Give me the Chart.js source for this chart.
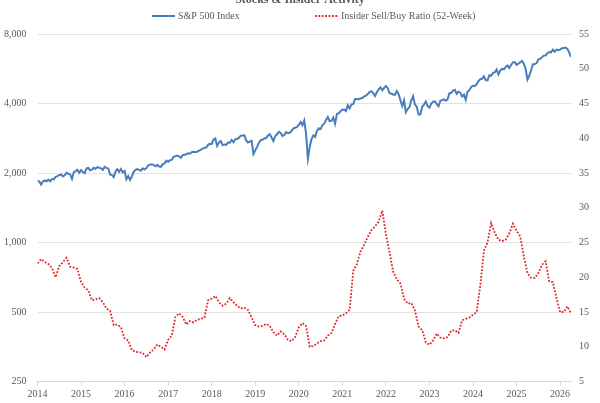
<!DOCTYPE html>
<html>
<head>
<meta charset="utf-8">
<script src="https://cdn.jsdelivr.net/npm/chart.js@4.4.1/dist/chart.umd.min.js"></script>
<style>
html,body{margin:0;padding:0;background:#fff;}
#wrap{width:600px;height:403px;position:relative;overflow:hidden;}
canvas{display:block;}
</style>
</head>
<body>
<div id="wrap"><canvas id="c" width="600" height="403"></canvas></div>
<script>
const chartTitle = 'Stocks & Insider Activity';
const seriesNames = ['S&P 500 Index', 'Insider Sell/Buy Ratio (52-Week)'];
const startYear = 2014;
const spxPerYear = 24;   // half-monthly readings
const ratioPerYear = 12; // monthly readings

const spx = [1848,
 1838,1783, 1838,1859, 1841,1872, 1842,1884, 1878,1924, 1937,1960, 1973,1931, 1955,2003, 1985,1972, 1886,2018, 2039,2067, 2003,2059,
 2019,1995, 2096,2104, 2053,2068, 2106,2086, 2122,2107, 2096,2063, 2126,2104, 2092,1972, 1958,1920, 2033,2079, 2023,2080, 2012,2044,
 1880,1940, 1865,1932, 2022,2060, 2081,2065, 2047,2097, 2071,2099, 2161,2174, 2184,2171, 2139,2168, 2133,2126, 2180,2199, 2262,2239,
 2274,2279, 2351,2364, 2381,2363, 2329,2384, 2400,2412, 2433,2423, 2459,2470, 2466,2472, 2500,2519, 2553,2575, 2579,2648, 2676,2674,
 2786,2824, 2619,2714, 2752,2641, 2656,2648, 2712,2705, 2780,2718, 2801,2816, 2840,2902, 2905,2914, 2768,2712, 2736,2760, 2416,2507,
 2596,2704, 2775,2784, 2822,2834, 2905,2946, 2850,2752, 2887,2942, 3013,2980, 2888,2926, 3007,2977, 2986,3038, 3120,3141, 3168,3231,
 3330,3226, 3380,2954, 2305,2585, 2800,2912, 2863,3044, 3124,3100, 3226,3271, 3390,3500, 3357,3363, 3483,3270, 3610,3622, 3701,3756,
 3768,3714, 3932,3811, 3963,3973, 4185,4181, 4174,4204, 4224,4298, 4327,4395, 4480,4523, 4433,4308, 4471,4605, 4700,4567, 4669,4766,
 4662,4432, 4418,4374, 4357,4530, 4392,4132, 3901,4132, 3667,3785, 3863,4130, 4305,3955, 3873,3586, 3583,3872, 3959,4080, 3895,3840,
 3999,4077, 4090,3970, 3891,4109, 4137,4169, 4110,4180, 4426,4450, 4554,4589, 4404,4508, 4450,4288, 4373,4150, 4502,4568, 4719,4770,
 4766,4846, 5005,5096, 5117,5254, 5051,5036, 5308,5278, 5432,5460, 5615,5346, 5554,5648, 5626,5762, 5842,5705, 5870,6032, 6051,5882,
 5950,6040, 6115,5955, 5639,5074, 5275,5569, 5917,5912, 5982,6205, 6243,6339, 6449,6460, 6606,6688, 6664,6840, 6700,6849, 6800,6845,
 6940,6950, 6990,6900, 6650,6370];

const ratio = [
 22.0,22.6,22.2,21.9,21.3,20.0,21.6,22.2,22.8,21.5,21.4,21.2,
 19.3,18.5,18.1,16.7,16.8,17.0,16.4,15.5,15.2,13.1,13.2,12.8,
 11.2,10.9,9.5,9.3,9.2,9.1,8.5,9.2,9.6,10.3,10.0,9.6,
 11.0,11.6,14.3,14.8,14.3,13.2,13.7,13.5,13.9,14.0,14.2,16.7,
 16.9,17.3,16.4,15.9,16.2,17.0,16.4,15.9,15.5,15.6,15.3,14.2,
 13.1,12.9,13.0,13.3,13.0,12.1,11.6,12.2,11.8,11.0,10.8,11.4,
 12.8,13.4,13.0,10.0,10.1,10.5,10.8,10.9,11.6,12.0,13.3,14.4,
 14.5,14.8,15.3,20.9,21.9,23.7,24.7,25.8,26.8,27.3,28.0,29.6,
 26.2,23.6,20.8,19.7,19.1,16.9,16.2,16.3,15.2,12.9,12.4,10.6,
 10.3,10.9,11.9,11.3,11.2,11.4,12.3,12.4,12.0,13.8,14.0,14.2,
 14.6,15.0,18.8,23.8,25.0,27.8,26.4,25.4,25.2,25.4,26.3,27.7,
 26.7,25.9,23.0,20.6,19.9,19.9,20.6,21.8,22.3,19.4,19.3,17.0,
 15.0,15.0,15.8,14.8];

const yearTicks = [2014,2015,2016,2017,2018,2019,2020,2021,2022,2023,2024,2025,2026];
const leftTicks = [250,500,1000,2000,4000,8000];
const rightTicks = [5,10,15,20,25,30,35,40,45,50,55];

const textColor = '#595959';
Chart.defaults.font.family = "'Liberation Serif', serif";
Chart.defaults.font.size = 10;
Chart.defaults.color = textColor;

const manualLegend = {
  id: 'manualLegend',
  afterDraw(chart) {
    const ctx = chart.ctx;
    const starts = [152, 315];
    const y = 16;
    ctx.save();
    ctx.font = "10px 'Liberation Serif', serif";
    ctx.textBaseline = 'middle';
    ctx.textAlign = 'left';
    chart.data.datasets.forEach((ds, k) => {
      const x0 = starts[k];
      ctx.strokeStyle = ds.borderColor;
      ctx.lineWidth = ds.borderWidth;
      ctx.setLineDash(ds.borderDash || []);
      ctx.beginPath();
      ctx.moveTo(x0, y);
      ctx.lineTo(x0 + 23, y);
      ctx.stroke();
      ctx.setLineDash([]);
      ctx.fillStyle = textColor;
      ctx.fillText(ds.label, x0 + 26, y);
    });
    ctx.restore();
  }
};

new Chart(document.getElementById('c'), {
  type: 'line',
  data: {
    datasets: [
      {
        label: seriesNames[0],
        data: spx.map((v, i) => ({x: startYear + i / spxPerYear, y: v})),
        yAxisID: 'y',
        borderColor: '#4a7ebb',
        borderWidth: 2,
        pointRadius: 0,
        tension: 0,
        fill: false
      },
      {
        label: seriesNames[1],
        data: ratio.map((v, i) => ({x: startYear + i / ratioPerYear, y: v})),
        yAxisID: 'y1',
        borderColor: '#e0262b',
        borderWidth: 1.8,
        borderDash: [1.8, 1.6],
        pointRadius: 0,
        tension: 0,
        fill: false
      }
    ]
  },
  options: {
    responsive: false,
    animation: false,
    devicePixelRatio: 1,
    layout: {padding: {left: 0, right: 0, top: 0, bottom: 0}},
    plugins: {
      legend: {display: false},
      tooltip: {enabled: false},
      title: {
        display: true,
        text: chartTitle,
        color: textColor,
        font: {size: 12, weight: 'bold', family: "'Liberation Serif', serif"},
        padding: {top: -7, bottom: 26.6}
      }
    },
    scales: {
      x: {
        type: 'linear',
        min: 2014,
        max: 2026.25,
        afterFit(s) { s.height = 21.5; },
        afterBuildTicks(s) { s.ticks = yearTicks.map(v => ({value: v})); },
        ticks: {callback: v => String(v), padding: 3, maxRotation: 0, autoSkip: false},
        grid: {drawOnChartArea: false, drawTicks: true, tickLength: 4, color: '#d9d9d9'},
        border: {display: true, color: '#d9d9d9'}
      },
      y: {
        type: 'logarithmic',
        position: 'left',
        min: 250,
        max: 8000,
        afterFit(s) { s.width = 37.5; },
        afterBuildTicks(s) { s.ticks = leftTicks.map(v => ({value: v})); },
        ticks: {callback: v => Number(v).toLocaleString('en-US'), padding: 11},
        grid: {color: '#e3e3e3', drawTicks: false, lineWidth: 1},
        border: {display: false}
      },
      y1: {
        type: 'linear',
        position: 'right',
        min: 5,
        max: 55,
        afterFit(s) { s.width = 29; },
        afterBuildTicks(s) { s.ticks = rightTicks.map(v => ({value: v})); },
        ticks: {padding: 8},
        grid: {drawOnChartArea: false, drawTicks: false},
        border: {display: false}
      }
    }
  },
  plugins: [manualLegend]
});
</script>
</body>
</html>
